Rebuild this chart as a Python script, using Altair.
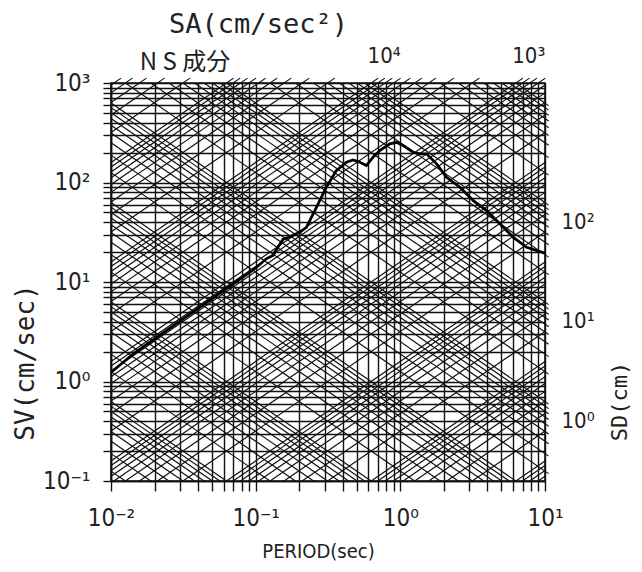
import math
import altair as alt
import pandas as pd

# ---- data ----
period = [0.01, 0.0142, 0.0241, 0.041, 0.0696, 0.101, 0.119, 0.132, 0.142, 0.155,
          0.172, 0.2014, 0.2242, 0.263, 0.308, 0.361, 0.424, 0.471, 0.525, 0.583,
          0.648, 0.721, 0.845, 0.941, 1.045, 1.227, 1.365, 1.518, 1.781, 2.088,
          2.582, 3.19, 3.95, 4.89, 6.04, 7.47, 10.0]
sv = [1.23, 1.89, 3.24, 5.55, 9.55, 14.0, 17.2, 18.5, 22.3, 26.9,
      28.5, 31.6, 35.4, 56.3, 89.6, 131.8, 159.7, 168.7, 159.7, 147.9,
      179.4, 209.5, 244.5, 253.6, 235.0, 201.4, 194.1, 194.1, 153.9, 112.8,
      89.6, 65.8, 52.1, 38.3, 28.1, 22.3, 19.5]

mults = [1, 2, 3, 4, 5, 6, 7, 8, 9]
t_decades = [-2, -1, 0]
sv_decades = [-1, 0, 1, 2]
sa_decades = [-2, -1, 0, 1, 2, 3, 4, 5, 6]
sd_decades = [-5, -4, -3, -2, -1, 0, 1, 2, 3, 4]

sa_labels = [10000.0, 1000.0]
sa_texts = ["10\u2074", "10\u00b3"]
sd_labels = [100.0, 10.0, 1.0]
sd_texts = ["10\u00b2", "10\u00b9", "10\u2070"]

T_MIN, T_MAX = 0.01, 10.0
SV_MIN, SV_MAX = 0.1, 1000.0
STUB_T = 10.6      # SD lines run a little past the right frame
STUB_SV = 1120.0   # SA lines run a little past the top frame

# ---- derived tables ----
t_ticks = [m * 10 ** k for k in t_decades for m in mults] + [10.0]
sv_ticks = [m * 10 ** k for k in sv_decades for m in mults] + [1000.0]

rows, stubs = [], []
gid = 0
for k in sa_decades:
    for m in mults:
        a = m * 10 ** k
        for t in (1e-3, 1e2):
            rows.append({"g": gid, "T": t, "SV": a * t / (2 * math.pi)})
        t0 = 2 * math.pi * SV_MAX / a
        if T_MIN <= t0 <= T_MAX:
            stubs.append({"g": gid, "T": t0, "SV": SV_MAX})
            stubs.append({"g": gid, "T": 2 * math.pi * STUB_SV / a, "SV": STUB_SV})
        gid += 1
for k in sd_decades:
    for m in mults:
        d = m * 10 ** k
        for t in (1e-3, 1e2):
            rows.append({"g": gid, "T": t, "SV": 2 * math.pi * d / t})
        s0 = 2 * math.pi * d / T_MAX
        if SV_MIN <= s0 <= SV_MAX:
            stubs.append({"g": gid, "T": T_MAX, "SV": s0})
            stubs.append({"g": gid, "T": STUB_T, "SV": 2 * math.pi * d / STUB_T})
        gid += 1
diag = pd.DataFrame(rows)
stub_df = pd.DataFrame(stubs)

curve = pd.DataFrame({"T": period, "SV": sv})
sa_df = pd.DataFrame({"T": [2 * math.pi * SV_MAX / a for a in sa_labels],
                      "SV": [SV_MAX] * len(sa_labels), "t": sa_texts})
sd_df = pd.DataFrame({"T": [T_MAX] * len(sd_labels),
                      "SV": [2 * math.pi * d / T_MAX for d in sd_labels], "t": sd_texts})

NARROW = "Liberation Sans Narrow, DejaVu Sans Condensed, sans-serif"
MONO = "DejaVu Sans Mono, Liberation Mono, monospace"
INK = "#111111"

xs = alt.Scale(type="log", domain=[T_MIN, T_MAX], nice=False)
ys = alt.Scale(type="log", domain=[SV_MIN, SV_MAX], nice=False)

lab_expr = ("abs(log(datum.value)/LN10 - round(log(datum.value)/LN10)) > 0.001 ? '' : "
            "(round(log(datum.value)/LN10) == -2 ? '10\u207b\u00b2' : "
            "round(log(datum.value)/LN10) == -1 ? '10\u207b\u00b9' : "
            "round(log(datum.value)/LN10) == 0 ? '10\u2070' : "
            "round(log(datum.value)/LN10) == 1 ? '10\u00b9' : "
            "round(log(datum.value)/LN10) == 2 ? '10\u00b2' : "
            "round(log(datum.value)/LN10) == 3 ? '10\u00b3' : '')")

x_axis = alt.Axis(values=t_ticks, labelExpr=lab_expr, grid=True, gridColor=INK,
                  gridOpacity=1, gridWidth=1.4, tickColor=INK, tickSize=10, tickWidth=1.4,
                  domainColor=INK, domainWidth=1.6, labelFont=NARROW, labelFontSize=24,
                  labelColor="#222", labelPadding=15, labelFlush=False, labelOverlap=False,
                  title="PERIOD(sec)", titleFont=NARROW, titleFontSize=20,
                  titleFontWeight="normal", titleColor="#222", titleX=207, titleY=70,
                  titleBaseline="middle", titleAlign="center")
y_axis = alt.Axis(values=sv_ticks, labelExpr=lab_expr, grid=True, gridColor=INK,
                  gridOpacity=1, gridWidth=1.4, tickColor=INK, tickSize=8, tickWidth=1.4,
                  domainColor=INK, domainWidth=1.6, labelFont=NARROW, labelFontSize=24,
                  labelColor="#222", labelPadding=13, labelFlush=False, labelOverlap=False,
                  title="SV(cm/sec)", titleFont=MONO, titleFontSize=26,
                  titleFontWeight="normal", titleColor="#222", titleX=-86, titleY=279,
                  titleAngle=-90, titleBaseline="middle", titleAlign="center")

base = alt.Chart(diag).mark_line(clip=True, color=INK, strokeWidth=1.2).encode(
    x=alt.X("T:Q", scale=xs, axis=x_axis),
    y=alt.Y("SV:Q", scale=ys, axis=y_axis),
    detail="g:N",
)

top_axis = alt.Axis(orient="top", labels=False, ticks=False, domain=False, grid=False,
                    title="SA(cm/sec\u00b2)", titleFont=MONO, titleFontSize=27,
                    titleFontWeight="normal", titleColor="#222", titleX=147, titleY=-59,
                    titleBaseline="middle", titleAlign="center")
right_axis = alt.Axis(orient="right", labels=False, ticks=False, domain=False, grid=False,
                      title="SD(cm)", titleFont=MONO, titleFontSize=22,
                      titleFontWeight="normal", titleColor="#222", titleX=74, titleY=318,
                      titleAngle=-90, titleBaseline="middle", titleAlign="center")

spec = alt.Chart(curve).mark_line(clip=True, color="#000", strokeWidth=2.8).encode(
    x=alt.X("T:Q", scale=xs, axis=top_axis),
    y=alt.Y("SV:Q", scale=ys, axis=right_axis),
)

stub = alt.Chart(stub_df).mark_line(clip=False, color=INK, strokeWidth=1.1).encode(
    x=alt.X("T:Q", scale=xs, axis=None),
    y=alt.Y("SV:Q", scale=ys, axis=None),
    detail="g:N",
)

sa_text = alt.Chart(sa_df).mark_text(font=NARROW, fontSize=22, color="#222",
                                     dx=13, dy=-27).encode(
    x=alt.X("T:Q", scale=xs, axis=None),
    y=alt.Y("SV:Q", scale=ys, axis=None),
    text="t:N",
)
sd_text = alt.Chart(sd_df).mark_text(font=NARROW, fontSize=22, color="#222",
                                     dx=33, dy=19).encode(
    x=alt.X("T:Q", scale=xs, axis=None),
    y=alt.Y("SV:Q", scale=ys, axis=None),
    text="t:N",
)
ns_text = alt.Chart(pd.DataFrame({"t": ["N S 成分"]})).mark_text(
    font="Noto Sans CJK JP", fontSize=24, color="#222").encode(
    x=alt.value(74), y=alt.value(-20), text="t:N")

chart = alt.layer(base, stub, spec, sa_text, sd_text, ns_text).resolve_axis(
    x="independent", y="independent"
).properties(
    width=434, height=398,
    autosize=alt.AutoSizeParams(type="none"),
    padding={"left": 103, "top": 75, "right": 89, "bottom": 82},
).configure_view(stroke=INK, strokeWidth=1.6)

chart.save("out.html", embed_options={"renderer": "svg", "actions": False})
